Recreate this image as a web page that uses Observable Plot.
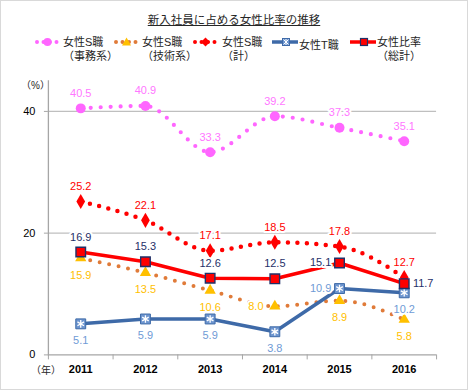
<!DOCTYPE html>
<html><head><meta charset="utf-8">
<script src="https://cdn.jsdelivr.net/npm/d3@7"></script>
<script src="https://cdn.jsdelivr.net/npm/@observablehq/plot@0.6"></script>
<style>
body{margin:0;background:#fff;font-family:"Liberation Sans","Noto Sans CJK JP",sans-serif;}
#wrap{position:relative;width:468px;height:390px;box-sizing:border-box;border:1px solid #d9d9d9;overflow:hidden;background:#fff;}
.t{position:absolute;white-space:nowrap;font-size:11px;color:#262626;line-height:14px;}
#title{position:absolute;left:0;width:466px;top:10px;text-align:center;font-size:11.5px;color:#262626;text-decoration:underline;font-family:"Noto Sans CJK JP",sans-serif;}
#chart{position:absolute;left:-1px;top:69px;}
.sw{position:absolute;}
</style></head>
<body>
<div id="wrap">
  <div id="title">新入社員に占める女性比率の推移</div>
  <div id="legend"></div>
  <div class="t" style="left:20px;top:78px;font-size:10px;">（%）</div>
  <div class="t" style="left:30px;top:363px;font-size:10px;">（年）</div>
  <div id="chart"></div>
</div>
<script>
// ---- data ----
const years = [2011, 2012, 2013, 2014, 2015, 2016];
const jimu = [40.5, 40.9, 33.3, 39.2, 37.3, 35.1];      // 女性S職（事務系）
const gijutsu = [15.9, 13.5, 10.6, 8.0, 8.9, 5.8];      // 女性S職（技術系）
const sKei = [25.2, 22.1, 17.1, 18.5, 17.8, 12.7];      // 女性S職（計）
const tShoku = [5.1, 5.9, 5.9, 3.8, 10.9, 10.2];        // 女性T職
const total = [16.9, 15.3, 12.6, 12.5, 15.1, 11.7];     // 女性比率（総計）
const legendLines = [
  ["女性S職", "（事務系）"],
  ["女性S職", "（技術系）"],
  ["女性S職", "（計）"],
  ["女性T職"],
  ["女性比率", "（総計）"]
];
const yTicks = [0, 20, 40];

// ---- styles ----
const C = {
  pink: "#ff66ff", pinkLbl: "#ff77ff",
  orange: "#e07b39", gold: "#ffc000",
  red: "#ff0000",
  blue: "#3e6aa8", blueFill: "#6d95cf", blueLbl: "#6f9bd6",
  navy: "#1f3068"
};
const place = {
  jimu: ["above","above","above","above","above","above"],
  gijutsu: ["below","below","below","left","below","below"],
  sKei: ["above","above","above","above","above","above"],
  tShoku: ["below","below","below","below","left","below"],
  total: ["above","above","above","above","left","right"]
};
const offsets = {above: [0, -15], below: [0, 17], left: [-19, 0], right: [19, 0]};

const rows = (vals, key) => years.map((year, i) => ({year, value: vals[i], key, pos: place[key][i]}));
const D = {
  jimu: rows(jimu, "jimu"),
  gijutsu: rows(gijutsu, "gijutsu"),
  sKei: rows(sKei, "sKei"),
  tShoku: rows(tShoku, "tShoku"),
  total: rows(total, "total")
};

function labels(data, color) {
  return Object.entries(offsets).map(([p, [dx, dy]]) =>
    Plot.text(data.filter(d => d.pos === p), {
      x: "year", y: "value", text: d => d.value.toFixed(1),
      dx, dy, fill: color, stroke: "white", strokeWidth: 4, paintOrder: "stroke",
      fontSize: 11
    }));
}

const boundaries = years.map(y => y - 0.5).concat([years[years.length - 1] + 0.5]);

const chart = Plot.plot({
  width: 468, height: 321,
  marginTop: 10.5, marginBottom: 36, marginLeft: 48, marginRight: 31,
  style: {fontFamily: "Liberation Sans, Noto Sans CJK JP, sans-serif", fontSize: "11px", background: "transparent"},
  x: {type: "linear", domain: [boundaries[0], boundaries[boundaries.length - 1]], label: null},
  y: {domain: [0, 45], label: null},
  marks: [
    Plot.gridY(yTicks.filter(v => v > 0), {stroke: "#bfbfbf", strokeOpacity: 1, strokeWidth: 1.3}),
    Plot.ruleY([0], {stroke: "#a6a6a6", strokeWidth: 1.3}),
    Plot.frame({anchor: "left", stroke: "#a6a6a6", strokeWidth: 1.3}),
    Plot.axisY({ticks: yTicks, tickSize: 4, tickPadding: 9, stroke: "#a6a6a6", fill: "#000", fontSize: 11, label: null}),
    Plot.axisX({ticks: boundaries, tickSize: 5, tickFormat: () => "", stroke: "#a6a6a6", label: null}),
    Plot.axisX({ticks: years, tickSize: 0, tickPadding: 10, tickFormat: d => String(d), fill: "#000", fontSize: 11, fontWeight: "bold", label: null}),
    // 女性S職（事務系）
    Plot.line(D.jimu, {x: "year", y: "value", curve: "monotone-x", stroke: C.pink, strokeWidth: 4.2, strokeDasharray: "0 10", strokeLinecap: "round"}),
    Plot.dot(D.jimu, {x: "year", y: "value", r: 5, fill: C.pink}),
    // 女性S職（技術系）
    Plot.line(D.gijutsu, {x: "year", y: "value", curve: "monotone-x", stroke: C.orange, strokeWidth: 4, strokeDasharray: "0 9.7", strokeLinecap: "round"}),
    Plot.dot(D.gijutsu, {x: "year", y: "value", symbol: "triangle", r: 4.2, fill: C.gold}),
    // 女性S職（計）
    Plot.line(D.sKei, {x: "year", y: "value", curve: "monotone-x", stroke: C.red, strokeWidth: 4.5, strokeDasharray: "0 9.5", strokeLinecap: "round"}),
    Plot.dot(D.sKei, {x: "year", y: "value", symbol: "diamond", r: 4.6, fill: C.red}),
    // 女性T職
    Plot.line(D.tShoku, {x: "year", y: "value", stroke: C.blue, strokeWidth: 3.5}),
    Plot.dot(D.tShoku, {x: "year", y: "value", symbol: "square", r: 5.6, fill: C.blueFill, stroke: C.blue, strokeWidth: 1}),
    Plot.dot(D.tShoku, {x: "year", y: "value", symbol: "asterisk", r: 3.6, stroke: "white", strokeWidth: 1.3}),
    // 女性比率（総計）
    Plot.line(D.total, {x: "year", y: "value", stroke: C.red, strokeWidth: 3.5}),
    Plot.dot(D.total, {x: "year", y: "value", symbol: "square", r: 5.4, fill: C.red, stroke: C.navy, strokeWidth: 1.4}),
    // labels
    ...labels(D.jimu, C.pinkLbl),
    ...labels(D.gijutsu, C.gold),
    ...labels(D.sKei, C.red),
    ...labels(D.tShoku, C.blueLbl),
    ...labels(D.total, C.navy)
  ]
});
document.getElementById("chart").appendChild(chart);

// ---- legend ----
const legend = d3.select("#legend");
const items = [
  {sx: 35, tx: 63, kind: "dotted", color: C.pink, marker: "circle", mfill: C.pink},
  {sx: 114, tx: 142, kind: "dotted", color: C.orange, marker: "triangle", mfill: C.gold},
  {sx: 193, tx: 222, kind: "dotted", color: C.red, marker: "diamond", mfill: C.red},
  {sx: 271, tx: 299, kind: "solid", color: C.blue, marker: "star", mfill: C.blueFill},
  {sx: 349, tx: 377, kind: "solid", color: C.red, marker: "square", mfill: C.red}
];
items.forEach((it, i) => {
  const svg = legend.append("svg").attr("class", "sw")
    .style("left", (it.sx - 1) + "px").style("top", (34 - 1) + "px")
    .attr("width", 30).attr("height", 16);
  const cy = 8, w = it.kind === "dotted" ? 22 : 27;
  if (it.kind === "dotted") {
    svg.append("line").attr("x1", 2).attr("x2", w).attr("y1", cy).attr("y2", cy)
      .attr("stroke", it.color).attr("stroke-width", 4).attr("stroke-linecap", "round").attr("stroke-dasharray", "0 6.5");
  } else {
    svg.append("line").attr("x1", 1).attr("x2", w).attr("y1", cy).attr("y2", cy)
      .attr("stroke", it.color).attr("stroke-width", 3.5);
  }
  const mx = w / 2 + 1.5;
  if (it.marker === "circle") svg.append("circle").attr("cx", mx).attr("cy", cy).attr("r", 4).attr("fill", it.mfill);
  if (it.marker === "triangle") svg.append("path").attr("d", `M${mx},${cy-4.5}L${mx+4.5},${cy+3.5}L${mx-4.5},${cy+3.5}Z`).attr("fill", it.mfill);
  if (it.marker === "diamond") svg.append("path").attr("d", `M${mx},${cy-4.5}L${mx+4.5},${cy}L${mx},${cy+4.5}L${mx-4.5},${cy}Z`).attr("fill", it.mfill);
  if (it.marker === "star") {
    svg.append("rect").attr("x", mx - 3.5).attr("y", cy - 3.5).attr("width", 7).attr("height", 7).attr("fill", it.mfill).attr("stroke", C.blue);
    svg.append("path").attr("d", `M${mx-2.5},${cy-2.5}L${mx+2.5},${cy+2.5}M${mx+2.5},${cy-2.5}L${mx-2.5},${cy+2.5}M${mx},${cy-3}L${mx},${cy+3}`).attr("stroke", "white").attr("stroke-width", 1);
  }
  if (it.marker === "square") svg.append("rect").attr("x", mx - 3.5).attr("y", cy - 3.5).attr("width", 7).attr("height", 7).attr("fill", it.mfill).attr("stroke", C.navy).attr("stroke-width", 1.2);
  const lines = legendLines[i];
  const top = lines.length === 1 ? 38 : 35;
  legend.append("div").attr("class", "t")
    .style("left", (it.tx - 1) + "px").style("top", (top - 1) + "px")
    .html(lines.join("<br>"));
});
</script>
</body></html>
